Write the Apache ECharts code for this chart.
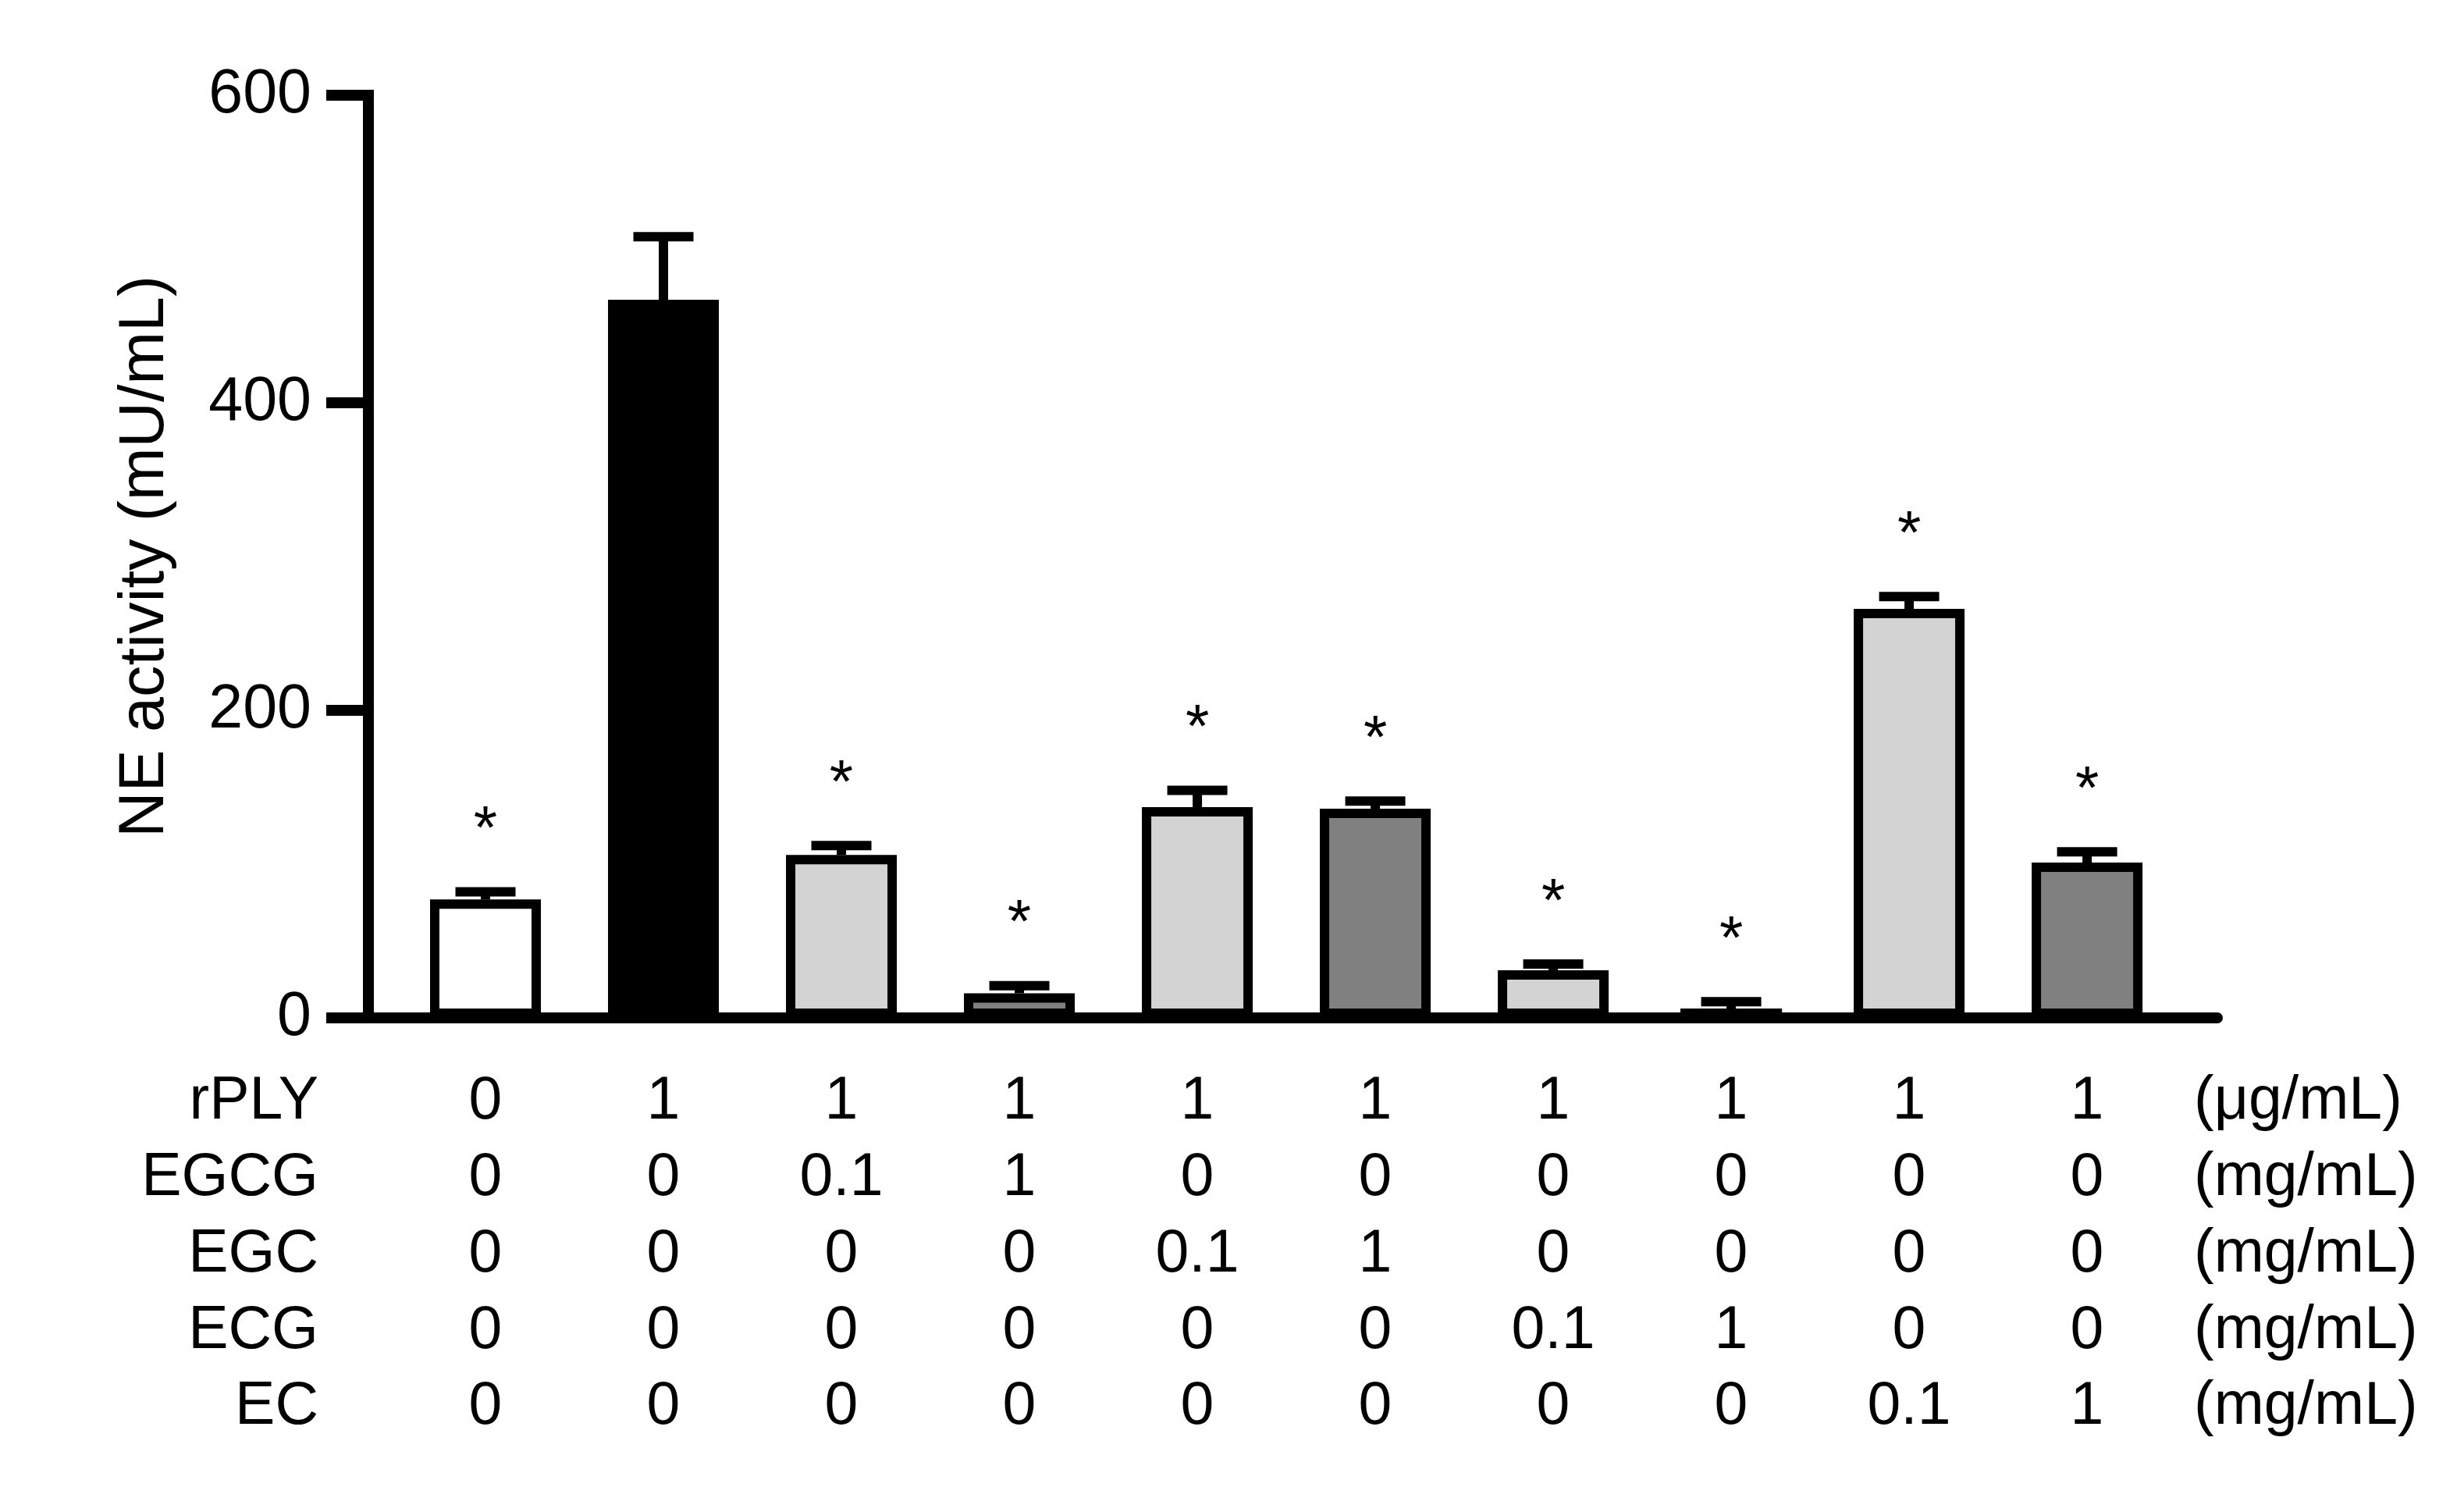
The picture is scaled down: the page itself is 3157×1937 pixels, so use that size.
<!DOCTYPE html>
<html>
<head>
<meta charset="utf-8">
<title>NE activity</title>
<script src="https://cdn.jsdelivr.net/npm/echarts@6/dist/echarts.min.js"></script>
<style>
  html, body { margin: 0; padding: 0; background: #fff; }
  #chart { width: 3157px; height: 1937px; }
</style>
</head>
<body>
<div id="chart"></div>
<script>
// bar values (mU/mL)
var neMean = [77, 467, 106, 16, 137, 136, 31, 6, 266, 101];
var neErr = [5, 41, 6, 5, 11, 5, 4, 4.5, 8, 7];
var starred = [1, 0, 1, 1, 1, 1, 1, 1, 1, 1];

// treatment table under the bars
var rowNames = ['rPLY', 'EGCG', 'EGC', 'ECG', 'EC'];
var rowUnits = ['(\u03bcg/mL)', '(mg/mL)', '(mg/mL)', '(mg/mL)', '(mg/mL)'];
var rPLY = ['0', '1', '1', '1', '1', '1', '1', '1', '1', '1'];
var EGCG = ['0', '0', '0.1', '1', '0', '0', '0', '0', '0', '0'];
var EGC = ['0', '0', '0', '0', '0.1', '1', '0', '0', '0', '0'];
var ECG = ['0', '0', '0', '0', '0', '0', '0.1', '1', '0', '0'];
var EC = ['0', '0', '0', '0', '0', '0', '0', '0', '0.1', '1'];

// fill by group (control, rPLY only, low dose, high dose ...)
var fills = ['#ffffff', '#000000', '#d3d3d3', '#808080', '#d3d3d3',
             '#808080', '#d3d3d3', '#808080', '#d3d3d3', '#808080'];

var FONT = 'Liberation Sans, Arial, Helvetica, sans-serif';
var chart = echarts.init(document.getElementById('chart'));

var barData = neMean.map(function (v, i) {
  return { value: [i, v], itemStyle: { color: fills[i] } };
});
var errData = neMean.map(function (v, i) { return [i, v, v + neErr[i]]; });
var starData = [];
neMean.forEach(function (v, i) {
  if (starred[i]) starData.push([i, v + neErr[i]]);
});
var tableRows = [rPLY, EGCG, EGC, ECG, EC];
var cells = [];
tableRows.forEach(function (row, r) {
  row.forEach(function (txt, c) { cells.push([c, r, txt]); });
});

var option = {
  backgroundColor: '#ffffff',
  animation: false,
  grid: [
    { left: 472, right: 316, top: 122, bottom: 633 },
    { left: 508, right: 369, top: 1363, bottom: 85 }
  ],
  xAxis: [
    {
      type: 'value', gridIndex: 0, min: -0.658, max: 9.732,
      axisLine: { show: true, onZero: false, lineStyle: { color: '#000', width: 14 } },
      axisTick: { show: false }, axisLabel: { show: false }, splitLine: { show: false }
    },
    {
      type: 'category', gridIndex: 1, data: rPLY.map(function (d, i) { return i; }),
      show: false
    }
  ],
  yAxis: [
    {
      type: 'value', gridIndex: 0, min: 0, max: 600, interval: 200,
      name: 'NE activity (mU/mL)', nameLocation: 'middle', nameGap: 245,
      nameTextStyle: { fontFamily: FONT, fontSize: 81, color: '#000' },
      axisLine: { show: true, onZero: false, lineStyle: { color: '#000', width: 14, cap: 'square' } },
      axisTick: { show: true, length: 54, lineStyle: { color: '#000', width: 14 } },
      axisLabel: { fontFamily: FONT, fontSize: 79, color: '#000', margin: 73 },
      splitLine: { show: false }
    },
    {
      type: 'category', gridIndex: 1, data: rowNames, inverse: true,
      axisLine: { show: false }, axisTick: { show: false }, splitLine: { show: false },
      axisLabel: { interval: 0, fontFamily: FONT, fontSize: 77, color: '#000', margin: 100 }
    },
    {
      type: 'category', gridIndex: 1, position: 'right', data: rowUnits, inverse: true,
      axisLine: { show: false }, axisTick: { show: false }, splitLine: { show: false },
      axisLabel: { interval: 0, fontFamily: FONT, fontSize: 77, color: '#000', margin: 23 }
    }
  ],
  series: [
    {
      type: 'bar', xAxisIndex: 0, yAxisIndex: 0, barWidth: 142,
      itemStyle: { borderColor: '#000', borderWidth: 12 },
      data: barData, z: 2
    },
    {
      type: 'custom', xAxisIndex: 0, yAxisIndex: 0, z: 3,
      renderItem: function (params, api) {
        var base = api.coord([api.value(0), api.value(1)]);
        var top = api.coord([api.value(0), api.value(2)]);
        var half = 38.5;
        var st = { stroke: '#000', lineWidth: 12 };
        return {
          type: 'group',
          children: [
            { type: 'line', shape: { x1: top[0], y1: base[1], x2: top[0], y2: top[1] }, style: st },
            { type: 'line', shape: { x1: top[0] - half, y1: top[1], x2: top[0] + half, y2: top[1] }, style: st }
          ]
        };
      },
      encode: { x: 0, y: [1, 2] },
      data: errData
    },
    {
      type: 'custom', xAxisIndex: 0, yAxisIndex: 0, z: 3,
      renderItem: function (params, api) {
        var p = api.coord([api.value(0), api.value(1)]);
        var fs = 78;
        return {
          type: 'text',
          style: {
            x: p[0], y: p[1] - 98 + 0.27 * fs, text: '*',
            fontFamily: FONT, fontSize: fs, fill: '#000',
            align: 'center', verticalAlign: 'middle'
          }
        };
      },
      encode: { x: 0, y: 1 },
      data: starData
    },
    {
      type: 'custom', xAxisIndex: 1, yAxisIndex: 1, z: 3,
      renderItem: function (params, api) {
        var p = api.coord([api.value(0), api.value(1)]);
        return {
          type: 'text',
          style: {
            x: p[0], y: p[1], text: cells[params.dataIndex][2],
            fontFamily: FONT, fontSize: 77, fill: '#000',
            align: 'center', verticalAlign: 'middle'
          }
        };
      },
      encode: { x: 0, y: 1 },
      data: cells.map(function (c) { return [c[0], c[1]]; })
    }
  ]
};

chart.setOption(option);
</script>
</body>
</html>
